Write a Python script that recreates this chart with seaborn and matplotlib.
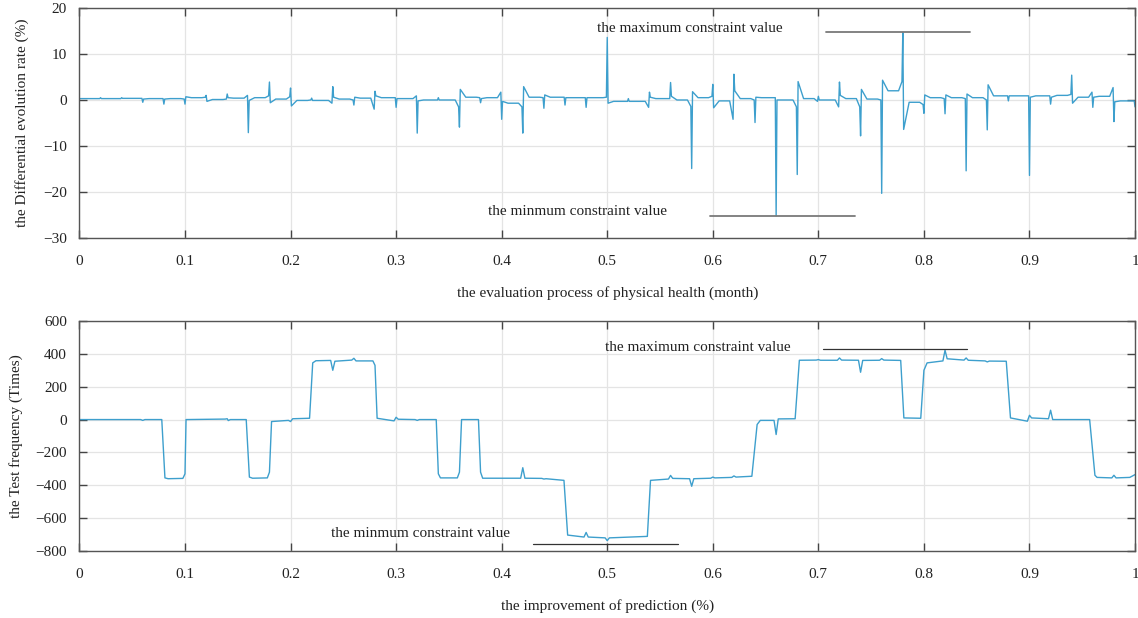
import numpy as np
import pandas as pd
import matplotlib
matplotlib.use("Agg")
import matplotlib.pyplot as plt
import seaborn as sns

sns.set_style("whitegrid")
plt.rcParams['font.family'] = ['Liberation Serif', 'DejaVu Serif']

# ---- top panel: spike events (position, value just before, tip, value just after, settled level)
top_start = 0.3
top_x = [0.02, 0.04, 0.06, 0.08, 0.10, 0.12, 0.14, 0.16, 0.18, 0.20,
         0.22, 0.24, 0.26, 0.28, 0.30, 0.32, 0.34, 0.36, 0.38, 0.40,
         0.42, 0.44, 0.46, 0.48, 0.50, 0.52, 0.54, 0.56, 0.58, 0.60,
         0.62, 0.64, 0.66, 0.68, 0.70, 0.72, 0.74, 0.76, 0.78, 0.80,
         0.82, 0.84, 0.86, 0.88, 0.90, 0.92, 0.94, 0.96, 0.98, 1.00]
top_pre = [0.3, 0.3, 0.35, 0.3, 0.2, 0.6, 0.2, 1.0, 0.9, 0.7,
           0.0, -0.7, 0.0, -2.0, 0.5, 0.9, 0.0, -1.5, 0.5, 1.7,
           -1.5, 0.5, 0.6, 0.5, 0.6, -0.3, -1.6, 0.3, -1.4, 0.8,
           -4.2, 0.0, 0.5, -1.5, -0.3, -1.5, -1.5, 0.0, 4.0, -1.0,
           0.3, 0.3, 0.0, 0.9, 0.9, 0.9, 1.2, 1.7, 2.7, -0.2]
top_tip = [0.5, 0.5, -0.5, -0.9, -0.9, 1.0, 1.3, -7.1, 3.9, 2.6,
           0.4, 2.9, -1.1, 1.9, -1.6, -7.2, 0.5, -5.9, -0.6, -4.2,
           -7.2, -1.8, -1.1, -1.6, 13.6, 0.3, 1.7, 3.8, -14.9, 3.4,
           5.6, -4.9, -25.2, -16.2, 0.8, 3.9, -7.8, -20.3, 14.7, -2.9,
           -3.0, -15.4, -6.5, -0.2, -16.4, -0.9, 5.4, -1.6, -4.7, -1.5]
top_post = [0.3, 0.35, 0.2, 0.2, 0.7, -0.3, 0.5, -0.1, -0.6, -1.3,
            -0.1, 0.6, 0.6, 0.9, 0.3, -0.2, 0.0, 2.3, 0.3, -0.3,
            2.9, 1.1, 0.5, 0.5, -0.7, -0.3, 0.6, 0.8, 1.8, -1.7,
            2.0, 0.6, 0.0, 4.0, 0.0, 1.0, 2.3, 4.3, -6.4, 1.1,
            1.1, 1.3, 3.3, 0.9, 0.6, 0.6, -0.7, 0.6, -0.4, -0.5]
top_level = [0.3, 0.35, 0.3, 0.3, 0.5, 0.1, 0.4, 0.5, 0.2, -0.1,
             -0.1, 0.2, 0.4, 0.5, 0.3, 0.0, 0.0, 0.6, 0.5, -0.7,
             0.6, 0.6, 0.5, 0.5, -0.3, -0.3, 0.3, 0.0, 0.5, -0.2,
             0.3, 0.5, 0.0, 0.3, 0.0, 0.3, 0.2, 2.0, -0.5, 0.5,
             0.5, 0.5, 0.9, 0.9, 0.9, 1.0, 0.6, 0.8, -0.2, -0.5]

# ---- bottom panel: breakpoints of the step signal
bot_x = [0.000, 0.058, 0.060, 0.062, 0.078, 0.081, 0.084, 0.098, 0.100, 0.101,
         0.138, 0.140, 0.141, 0.143, 0.158, 0.161, 0.164, 0.178, 0.180, 0.182,
         0.198, 0.200, 0.202, 0.218, 0.221, 0.224, 0.238, 0.240, 0.242, 0.258,
         0.260, 0.262, 0.278, 0.280, 0.282, 0.298, 0.300, 0.302, 0.318, 0.320,
         0.322, 0.338, 0.340, 0.342, 0.358, 0.360, 0.362, 0.378, 0.380, 0.382,
         0.418, 0.420, 0.422, 0.438, 0.440, 0.442, 0.459, 0.4625, 0.478, 0.480,
         0.482, 0.498, 0.500, 0.502, 0.538, 0.541, 0.558, 0.560, 0.562, 0.578,
         0.580, 0.582, 0.598, 0.600, 0.602, 0.618, 0.620, 0.622, 0.637, 0.642,
         0.645, 0.658, 0.660, 0.662, 0.678, 0.682, 0.698, 0.700, 0.702, 0.718,
         0.720, 0.722, 0.738, 0.740, 0.742, 0.758, 0.760, 0.762, 0.778, 0.781,
         0.797, 0.800, 0.803, 0.818, 0.820, 0.822, 0.838, 0.840, 0.842, 0.858,
         0.860, 0.862, 0.878, 0.882, 0.898, 0.900, 0.902, 0.918, 0.920, 0.922,
         0.957, 0.962, 0.964, 0.978, 0.980, 0.982, 0.995, 1.000]
bot_y = [0, 0, -5, 0, 0, -355, -360, -358, -330, 0,
         3, 5, -6, 0, 0, -350, -357, -355, -320, -12,
         -5, -12, 5, 8, 345, 358, 360, 300, 355, 362,
         373, 357, 357, 330, 8, -8, 14, 2, 0, -5,
         0, 0, -330, -355, -355, -320, 0, 0, -320, -357,
         -357, -293, -357, -358, -362, -360, -370, -703, -715, -687,
         -715, -720, -737, -720, -711, -370, -362, -340, -358, -360,
         -406, -360, -357, -350, -355, -352, -343, -350, -345, -30,
         -5, -5, -91, 4, 5, 361, 362, 365, 361, 361,
         375, 362, 361, 288, 360, 361, 371, 362, 360, 10,
         8, 300, 345, 357, 422, 370, 362, 375, 361, 357,
         351, 356, 355, 10, -10, 26, 10, 5, 57, 0,
         0, -339, -352, -355, -339, -355, -352, -335]

# annotation guides (data units)
top_max_line = ([0.707, 0.844], 14.8)
top_min_line = ([0.597, 0.735], -25.2)
bot_max_line = ([0.704, 0.841], 430)
bot_min_line = ([0.430, 0.567], -757)

line_color = '#3d9fcd'

# build the top polyline from the event table
px, py = [0.0], [top_start]
prev = top_start
for x, a, b, c, d in zip(top_x, top_pre, top_tip, top_post, top_level):
    px += [x - 0.004, x - 0.0008, x, x + 0.0008, x + 0.006]
    py += [prev, a, b, c, d]
    prev = d
top_df = pd.DataFrame({'x': px, 'y': py})
bot_df = pd.DataFrame({'x': bot_x, 'y': bot_y})

fig = plt.figure(figsize=(11.38, 6.18), dpi=100)
ax1 = fig.add_axes([0.0698, 0.6149, 0.9276, 0.3722])
ax2 = fig.add_axes([0.0698, 0.1084, 0.9276, 0.3722])

sns.lineplot(data=top_df, x='x', y='y', ax=ax1, color=line_color, lw=1.0,
             estimator=None, sort=False)
sns.lineplot(data=bot_df, x='x', y='y', ax=ax2, color=line_color, lw=1.0,
             estimator=None, sort=False)

ax1.plot(top_max_line[0], [top_max_line[1]] * 2, color='#7a7a7a', lw=1.3)
ax1.plot(top_min_line[0], [top_min_line[1]] * 2, color='#7a7a7a', lw=1.3)
ax1.text(0.578, 15.6, 'the maximum constraint value', ha='center', va='center', fontsize=11, color='#222')
ax1.text(0.4716, -24.3, 'the minmum constraint value', ha='center', va='center', fontsize=11, color='#222')

ax2.plot(bot_max_line[0], [bot_max_line[1]] * 2, color='#333', lw=0.9)
ax2.plot(bot_min_line[0], [bot_min_line[1]] * 2, color='#333', lw=0.9)
ax2.text(0.586, 436, 'the maximum constraint value', ha='center', va='center', fontsize=11, color='#222')
ax2.text(0.3235, -696, 'the minmum constraint value', ha='center', va='center', fontsize=11, color='#222')

ax1.set_xlim(0, 1)
ax1.set_ylim(-30, 20)
ax1.set_yticks([-30, -20, -10, 0, 10, 20])
ax2.set_xlim(0, 1)
ax2.set_ylim(-800, 600)
ax2.set_yticks(np.arange(-800, 601, 200))

xt = [0, 0.1, 0.2, 0.3, 0.4, 0.5, 0.6, 0.7, 0.8, 0.9, 1]
xtl = ['0', '0.1', '0.2', '0.3', '0.4', '0.5', '0.6', '0.7', '0.8', '0.9', '1']
for ax in (ax1, ax2):
    ax.set_xticks(xt)
    ax.set_xticklabels(xtl)
    ax.grid(True, color='#e4e4e4', lw=0.9)
    ax.tick_params(direction='in', length=6, width=1, colors='#444',
                   labelcolor='#222', labelsize=11, top=True, right=True,
                   bottom=True, left=True)
    ax.tick_params(axis='x', pad=12)
    ax.tick_params(axis='y', pad=9)
    for s in ax.spines.values():
        s.set_color('#555')
        s.set_linewidth(1.0)

ax1.set_xlabel('the evaluation process of physical health (month)', fontsize=11, color='#222', labelpad=13)
ax1.set_ylabel('the Differential evolution rate (%)', fontsize=11, color='#222', labelpad=10)
ax2.set_xlabel('the improvement of prediction (%)', fontsize=11, color='#222', labelpad=13)
ax2.set_ylabel('the Test frequency (Times)', fontsize=11, color='#222', labelpad=9)

fig.savefig('out.png', dpi=100)
